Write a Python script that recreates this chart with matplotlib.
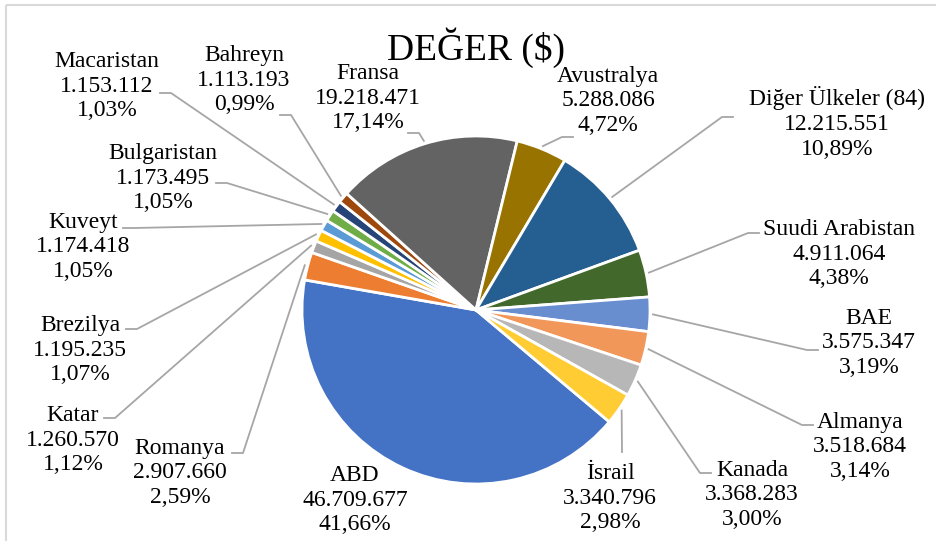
import numpy as np
import matplotlib
matplotlib.use("Agg")
import matplotlib.pyplot as plt

plt.rcParams['font.family'] = ['Liberation Serif', 'DejaVu Serif']

# data, in drawing order (clockwise, Excel style)
countries = ['ABD', 'Romanya', 'Katar', 'Brezilya', 'Kuveyt', 'Bulgaristan',
             'Macaristan', 'Bahreyn', 'Fransa', 'Avustralya',
             'Diğer Ülkeler (84)', 'Suudi Arabistan', 'BAE', 'Almanya',
             'Kanada', 'İsrail']
values = [46709677, 2907660, 1260570, 1195235, 1174418, 1173495,
          1153112, 1113193, 19218471, 5288086,
          12215551, 4911064, 3575347, 3518684, 3368283, 3340796]
colors = ['#4472C4', '#ED7D31', '#A5A5A5', '#FFC000', '#5B9BD5', '#70AD47',
          '#264478', '#9E480E', '#636363', '#997300',
          '#255E91', '#43682B', '#698ED0', '#F1975A', '#B7B7B7', '#FFCD33']

# label layout in image pixels: text centre and where the leader line starts
label_pos = [(355, 500), (180, 473), (73, 440), (80, 350), (83, 247), (163, 178),
             (107, 86), (244, 80), (368, 98), (608, 101),
             (837, 123), (839, 254), (869, 343), (860, 447), (752, 495), (610, 498)]
leader_start = [None, (232, 453), (104, 418), (126, 329), (123, 228), (216, 183),
                (160, 93), (280, 115), (408, 133), (573, 137),
                (733, 117), (759, 233), (818, 350), (813, 425), (711, 473), (622, 452)]

W, H = 936, 541


def fmt_int(v):
  return '{:,}'.format(v).replace(',', '.')


def fmt_pct(p):
  return '{:.2f}%'.format(p).replace('.', ',')


fig = plt.figure(figsize=(W / 100, H / 100), dpi=100)
ax = fig.add_axes([0, 0, 1, 1])
ax.set_xlim(0, W)
ax.set_ylim(0, H)
ax.set_aspect('equal')
ax.axis('off')

# chart border (only top and left visible)
ax.plot([6, W], [H - 5, H - 5], color='#D9D9D9', lw=1.5, solid_capstyle='butt')
ax.plot([6, 6], [H - 5, 0], color='#D9D9D9', lw=1.5, solid_capstyle='butt')

cx, cy, r = 476, H - 310, 174
wedges, _ = ax.pie(values, colors=colors, startangle=-40, counterclock=False,
                   radius=r, center=(cx, cy), explode=[0.017] * len(values),
                   wedgeprops=dict(edgecolor='white', linewidth=2))
ax.set_xlim(0, W)
ax.set_ylim(0, H)

total = sum(values)
for i, w in enumerate(wedges):
  pct = values[i] / total * 100
  txt = '{}\n{}\n{}'.format(countries[i], fmt_int(values[i]), fmt_pct(pct))
  lx, ly = label_pos[i]
  ax.text(lx, H - ly, txt, ha='center', va='center', fontsize=17,
          linespacing=1.23, color='black')
  if leader_start[i] is None:
    continue
  mid = np.deg2rad((w.theta1 + w.theta2) / 2)
  wx, wy = w.center
  px = wx + (w.r + 3) * np.cos(mid)
  py = wy + (w.r + 3) * np.sin(mid)
  sx, sy = leader_start[i]
  sy = H - sy
  if abs(sx - px) < 6:
    xs, ys = [sx, px], [sy, py]
  else:
    ex = sx + (11 if sx < px else -11)
    xs, ys = [sx, ex, px], [sy, sy, py]
  ax.plot(xs, ys, color='#A6A6A6', lw=1.3)

ax.text(476, H - 60, 'DEĞER ($)', ha='center', va='baseline', fontsize=27,
        color='black')

fig.savefig('out.png', dpi=100)
